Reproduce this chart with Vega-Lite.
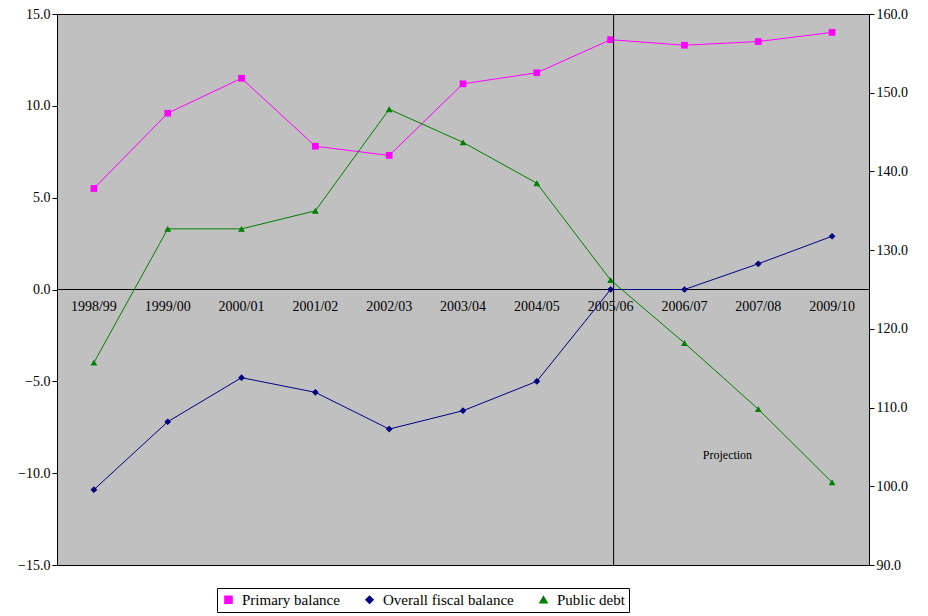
{
  "$schema": "https://vega.github.io/schema/vega-lite/v6.json",
  "width": 812,
  "height": 551,
  "autosize": {"type": "none"},
  "padding": {"left": 57, "top": 14, "right": 59, "bottom": 51},
  "background": "white",
  "config": {
    "font": "Liberation Serif",
    "view": {"fill": "#C0C0C0", "stroke": "black", "strokeWidth": 1},
    "axis": {"labelFont": "Liberation Serif", "labelFontSize": 14, "labelColor": "black", "domainColor": "black", "tickColor": "black", "grid": false, "title": null}
  },
  "datasets": {
    "bal": [
      {"year": "1998/99", "series": "Primary balance", "value": 5.5},
      {"year": "1999/00", "series": "Primary balance", "value": 9.6},
      {"year": "2000/01", "series": "Primary balance", "value": 11.5},
      {"year": "2001/02", "series": "Primary balance", "value": 7.8},
      {"year": "2002/03", "series": "Primary balance", "value": 7.3},
      {"year": "2003/04", "series": "Primary balance", "value": 11.2},
      {"year": "2004/05", "series": "Primary balance", "value": 11.8},
      {"year": "2005/06", "series": "Primary balance", "value": 13.6},
      {"year": "2006/07", "series": "Primary balance", "value": 13.3},
      {"year": "2007/08", "series": "Primary balance", "value": 13.5},
      {"year": "2009/10", "series": "Primary balance", "value": 14.0},
      {"year": "1998/99", "series": "Overall fiscal balance", "value": -10.9},
      {"year": "1999/00", "series": "Overall fiscal balance", "value": -7.2},
      {"year": "2000/01", "series": "Overall fiscal balance", "value": -4.8},
      {"year": "2001/02", "series": "Overall fiscal balance", "value": -5.6},
      {"year": "2002/03", "series": "Overall fiscal balance", "value": -7.6},
      {"year": "2003/04", "series": "Overall fiscal balance", "value": -6.6},
      {"year": "2004/05", "series": "Overall fiscal balance", "value": -5.0},
      {"year": "2005/06", "series": "Overall fiscal balance", "value": 0.0},
      {"year": "2006/07", "series": "Overall fiscal balance", "value": 0.0},
      {"year": "2007/08", "series": "Overall fiscal balance", "value": 1.4},
      {"year": "2009/10", "series": "Overall fiscal balance", "value": 2.9}
    ],
    "debt": [
      {"year": "1998/99", "series": "Public debt", "value": 115.7},
      {"year": "1999/00", "series": "Public debt", "value": 132.7},
      {"year": "2000/01", "series": "Public debt", "value": 132.7},
      {"year": "2001/02", "series": "Public debt", "value": 135.0},
      {"year": "2002/03", "series": "Public debt", "value": 147.9},
      {"year": "2003/04", "series": "Public debt", "value": 143.7},
      {"year": "2004/05", "series": "Public debt", "value": 138.5},
      {"year": "2005/06", "series": "Public debt", "value": 126.2},
      {"year": "2006/07", "series": "Public debt", "value": 118.2},
      {"year": "2007/08", "series": "Public debt", "value": 109.8},
      {"year": "2009/10", "series": "Public debt", "value": 100.5}
    ]
  },
  "encoding": {
    "x": {"field": "year", "type": "ordinal", "sort": null, "scale": {"paddingInner": 0, "paddingOuter": 0}, "axis": {"labelAngle": 0, "offset": -276, "labelPadding": 10, "ticks": false}},
    "color": {"field": "series", "type": "nominal", "sort": null, "scale": {"domain": ["Primary balance", "Overall fiscal balance", "Public debt"], "range": ["#FF00FF", "#000080", "#008000"]},
      "legend": {"orient": "none", "legendX": 160, "legendY": 574, "direction": "horizontal", "title": null, "labelFont": "Liberation Serif", "labelFontSize": 15, "labelColor": "black", "strokeColor": "black", "padding": 4, "columnPadding": 22, "symbolSize": 50, "labelOffset": 6}},
    "shape": {"field": "series", "type": "nominal", "sort": null, "scale": {"domain": ["Primary balance", "Overall fiscal balance", "Public debt"], "range": ["square", "diamond", "triangle-up"]}}
  },
  "layer": [
    {
      "data": {"name": "bal"},
      "encoding": {"y": {"field": "value", "type": "quantitative", "scale": {"domain": [-15, 15], "nice": false}, "axis": {"orient": "left", "values": [-15, -10, -5, 0, 5, 10, 15], "format": ".1f"}}},
      "layer": [
        {"mark": {"type": "line", "strokeWidth": 1}},
        {"mark": {"type": "point", "filled": true, "opacity": 1, "size": 45}}
      ]
    },
    {
      "data": {"name": "debt"},
      "encoding": {"y": {"field": "value", "type": "quantitative", "scale": {"domain": [90, 160], "nice": false}, "axis": {"orient": "right", "values": [90, 100, 110, 120, 130, 140, 150, 160], "format": ".1f"}}},
      "layer": [
        {"mark": {"type": "line", "strokeWidth": 1}},
        {"mark": {"type": "point", "filled": true, "opacity": 1, "size": 45}},
        {"data": {"values": [{"year": "2005/06"}]}, "mark": {"type": "rule", "color": "black", "strokeWidth": 1, "xOffset": 3}, "encoding": {"x": {"field": "year", "type": "ordinal"}, "y": {"value": 0}, "y2": {"value": 551}, "color": null, "shape": null}},
        {"data": {"values": [{"year": "2006/07", "label": "Projection", "value": 104}]}, "mark": {"type": "text", "font": "Liberation Serif", "fontSize": 12, "dx": 43, "color": "black"}, "encoding": {"text": {"field": "label"}, "color": null, "shape": null}}
      ]
    }
  ],
  "resolve": {"scale": {"y": "independent"}}
}
